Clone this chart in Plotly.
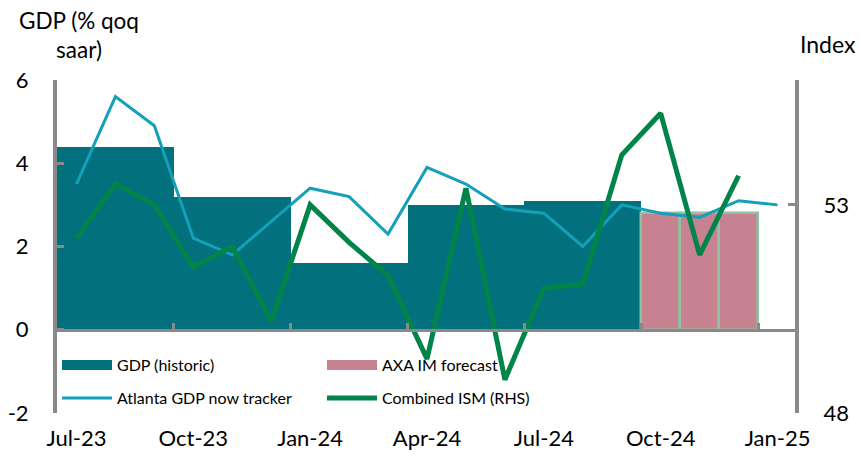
import plotly.graph_objects as go

months = ["Jul-23", "Aug-23", "Sep-23", "Oct-23", "Nov-23", "Dec-23",
          "Jan-24", "Feb-24", "Mar-24", "Apr-24", "May-24", "Jun-24",
          "Jul-24", "Aug-24", "Sep-24", "Oct-24", "Nov-24", "Dec-24", "Jan-25"]
gdp_historic = [4.4, 4.4, 4.4, 3.2, 3.2, 3.2, 1.6, 1.6, 1.6, 3.0, 3.0, 3.0,
                3.1, 3.1, 3.1, None, None, None, None]
gdp_forecast = [None] * 15 + [2.8, 2.8, 2.8, None]
atlanta_now = [3.5, 5.6, 4.9, 2.2, 1.8, 2.6, 3.4, 3.2, 2.3, 3.9, 3.5, 2.9,
               2.8, 2.0, 3.0, 2.8, 2.7, 3.1, 3.0]
combined_ism = [52.2, 53.5, 53.0, 51.5, 52.0, 50.2, 53.0, 52.1, 51.3, 49.3, 53.4, 48.8,
                51.0, 51.1, 54.2, 55.2, 51.8, 53.7, None]
left_ticks = [-2, 0, 2, 4, 6]
right_ticks = [48, 53]

x = list(range(len(months)))
label_idx = x[::3]
boundary_ticks = [i - 0.5 for i in label_idx[1:]]

FONT = "Lato"
GRAY = "#898989"
TEAL = "#03707D"
BLUE = "#14A0B8"
GREEN = "#00844A"
PINK = "#C68290"
PINK_EDGE = "#8FC3A0"

fig = go.Figure()
fig.add_trace(go.Bar(x=x, y=gdp_historic, width=1, name="GDP (historic)", showlegend=False,
                     marker=dict(color=TEAL, line=dict(width=0))))
fig.add_trace(go.Bar(x=x, y=gdp_forecast, width=1, name="AXA IM forecast", showlegend=False,
                     marker=dict(color=PINK, line=dict(color=PINK_EDGE, width=2.5))))
fig.add_trace(go.Scatter(x=x, y=atlanta_now, mode="lines", name="Atlanta GDP now tracker",
                         line=dict(color=BLUE, width=3), legend="legend2"))
fig.add_trace(go.Scatter(x=x, y=combined_ism, mode="lines", name="Combined ISM (RHS)",
                         line=dict(color=GREEN, width=5), xaxis="x2", yaxis="y2",
                         legend="legend2"))
# legend keys for the bar series (wide rectangles as in the original)
fig.add_trace(go.Scatter(x=[None], y=[None], mode="lines", name="GDP (historic)",
                         line=dict(color=TEAL, width=12), legend="legend"))
fig.add_trace(go.Scatter(x=[None], y=[None], mode="lines", name="AXA IM forecast",
                         line=dict(color=PINK, width=12), legend="legend"))

xr = [-0.5, len(months) - 0.5]
leg_common = dict(orientation="h", xanchor="left", yanchor="top",
                  entrywidth=200, entrywidthmode="pixels", itemwidth=50,
                  font=dict(family=FONT, size=16, color="black"),
                  bgcolor="rgba(0,0,0,0)", traceorder="normal", x=0)
fig.update_layout(
    width=860, height=462,
    margin=dict(l=57, r=63, t=80, b=49, autoexpand=False),
    paper_bgcolor="white", plot_bgcolor="white",
    barmode="overlay", bargap=0,
    font=dict(family=FONT, size=22, color="black"),
    showlegend=True,
    legend=dict(**leg_common, y=(413 - 348) / 333),
    legend2=dict(**leg_common, y=(413 - 381) / 333),
    xaxis=dict(range=xr, tickvals=label_idx, ticktext=[months[i] for i in label_idx],
               showline=False, showgrid=False, zeroline=False, ticks="",
               ticklabelstandoff=10, tickfont=dict(size=22), automargin=False),
    xaxis2=dict(range=xr, overlaying="x", anchor="free", position=0.25,
                showline=True, linecolor=GRAY, linewidth=3, showgrid=False, zeroline=False,
                ticks="inside", tickvals=boundary_ticks, ticklen=6, tickwidth=3,
                tickcolor=GRAY, showticklabels=False, automargin=False),
    yaxis=dict(range=[-2, 6], tickvals=left_ticks, ticktext=[str(v) for v in left_ticks],
               showline=True, linecolor=GRAY, linewidth=4,
               showgrid=False, zeroline=False, ticks="inside", ticklen=7, tickwidth=3,
               tickcolor=GRAY, ticklabelstandoff=20, tickfont=dict(size=22), automargin=False),
    yaxis2=dict(range=[48, 56], tickvals=right_ticks, ticktext=[str(v) for v in right_ticks],
                overlaying="y", side="right", anchor="free", position=1.0,
                showline=True, linecolor=GRAY, linewidth=4, showgrid=False, zeroline=False,
                ticks="inside", ticklen=7, tickwidth=3, tickcolor=GRAY,
                ticklabelstandoff=20, tickfont=dict(size=22), automargin=False),
    annotations=[
        dict(text="GDP (% qoq<br>saar)", xref="paper", yref="paper",
             x=(79 - 57) / 740, y=1 + (80 - 5) / 333, xanchor="center", yanchor="top",
             showarrow=False, align="center", font=dict(family=FONT, size=22.5)),
        dict(text="Index", xref="paper", yref="paper",
             x=(798 - 57) / 740, y=1 + (80 - 44) / 333, xanchor="left", yanchor="middle",
             showarrow=False, font=dict(family=FONT, size=23)),
    ],
)

fig.write_html("out.html", config={"displayModeBar": False},
               post_script="document.body.style.margin='0';")
